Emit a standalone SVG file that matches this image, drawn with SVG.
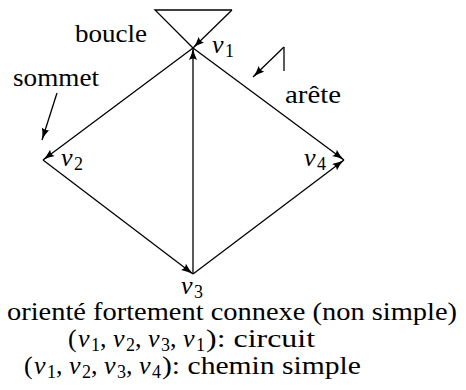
<svg xmlns="http://www.w3.org/2000/svg" width="466" height="390" viewBox="0 0 466 390">
<defs>
  <marker id="ah" markerUnits="userSpaceOnUse" markerWidth="14" markerHeight="10" refX="12" refY="4" orient="auto">
    <path d="M0,0 Q6,3 12,4 Q6,5 0,8 Q3,4 0,0 Z" fill="#000"/>
  </marker>
</defs>
<g id="connectors" stroke="#000" stroke-width="1.3" fill="none">
  <path d="M193,48 L155,10 L232,10"/>
  <path d="M232,10 L193,48" marker-end="url(#ah)"/>
  <line x1="193" y1="48" x2="43" y2="160" marker-end="url(#ah)"/>
  <line x1="43" y1="160" x2="193" y2="274" marker-end="url(#ah)"/>
  <line x1="193" y1="274" x2="193" y2="48" marker-end="url(#ah)"/>
  <line x1="193" y1="48" x2="344" y2="160" marker-end="url(#ah)"/>
  <line x1="193" y1="274" x2="344" y2="160" marker-end="url(#ah)"/>
  <line x1="57" y1="93" x2="42" y2="140" marker-end="url(#ah)"/>
  <line x1="284" y1="47" x2="284" y2="71"/>
  <line x1="284" y1="47" x2="253" y2="77" marker-end="url(#ah)"/>
</g>
<g font-family="Liberation Serif" font-size="26" fill="#000">
  <g id="v1"><text style="font-family:'Liberation Serif',serif !important" font-style="italic" x="212" y="53">v</text><text style="font-family:'Liberation Serif',serif !important" font-size="18" x="225" y="57">1</text></g>
  <g id="v2"><text style="font-family:'Liberation Serif',serif !important" font-style="italic" x="61" y="166">v</text><text style="font-family:'Liberation Serif',serif !important" font-size="18" x="74" y="170">2</text></g>
  <g id="v3"><text style="font-family:'Liberation Serif',serif !important" font-style="italic" x="181" y="294">v</text><text style="font-family:'Liberation Serif',serif !important" font-size="18" x="194" y="298">3</text></g>
  <g id="v4"><text style="font-family:'Liberation Serif',serif !important" font-style="italic" x="304" y="166">v</text><text style="font-family:'Liberation Serif',serif !important" font-size="18" x="317" y="170">4</text></g>
  <g id="labels">
    <text style="font-family:'Liberation Serif',serif !important" x="75" y="42" textLength="72" lengthAdjust="spacingAndGlyphs">boucle</text>
    <text style="font-family:'Liberation Serif',serif !important" x="13" y="86" textLength="86" lengthAdjust="spacingAndGlyphs">sommet</text>
    <text style="font-family:'Liberation Serif',serif !important" x="285" y="103" textLength="56" lengthAdjust="spacingAndGlyphs">arête</text>
    <text style="font-family:'Liberation Serif',serif !important" x="7" y="320" textLength="450" lengthAdjust="spacingAndGlyphs">orienté fortement connexe (non simple)</text>
  </g>
  <g id="line2">
    <text style="font-family:'Liberation Serif',serif !important" x="68" y="347">(</text>
    <text style="font-family:'Liberation Serif',serif !important" font-style="italic" x="78" y="347">v</text><text style="font-family:'Liberation Serif',serif !important" font-size="18" x="91" y="351">1</text><text style="font-family:'Liberation Serif',serif !important" x="100" y="347">,</text>
    <text style="font-family:'Liberation Serif',serif !important" font-style="italic" x="113" y="347">v</text><text style="font-family:'Liberation Serif',serif !important" font-size="18" x="126" y="351">2</text><text style="font-family:'Liberation Serif',serif !important" x="135" y="347">,</text>
    <text style="font-family:'Liberation Serif',serif !important" font-style="italic" x="148" y="347">v</text><text style="font-family:'Liberation Serif',serif !important" font-size="18" x="161" y="351">3</text><text style="font-family:'Liberation Serif',serif !important" x="170" y="347">,</text>
    <text style="font-family:'Liberation Serif',serif !important" font-style="italic" x="183" y="347">v</text><text style="font-family:'Liberation Serif',serif !important" font-size="18" x="196" y="351">1</text>
    <text style="font-family:'Liberation Serif',serif !important" x="206" y="347" textLength="109" lengthAdjust="spacingAndGlyphs">): circuit</text>
  </g>
  <g id="line3">
    <text style="font-family:'Liberation Serif',serif !important" x="24" y="374">(</text>
    <text style="font-family:'Liberation Serif',serif !important" font-style="italic" x="34" y="374">v</text><text style="font-family:'Liberation Serif',serif !important" font-size="18" x="47" y="378">1</text><text style="font-family:'Liberation Serif',serif !important" x="56" y="374">,</text>
    <text style="font-family:'Liberation Serif',serif !important" font-style="italic" x="69" y="374">v</text><text style="font-family:'Liberation Serif',serif !important" font-size="18" x="82" y="378">2</text><text style="font-family:'Liberation Serif',serif !important" x="91" y="374">,</text>
    <text style="font-family:'Liberation Serif',serif !important" font-style="italic" x="104" y="374">v</text><text style="font-family:'Liberation Serif',serif !important" font-size="18" x="117" y="378">3</text><text style="font-family:'Liberation Serif',serif !important" x="126" y="374">,</text>
    <text style="font-family:'Liberation Serif',serif !important" font-style="italic" x="139" y="374">v</text><text style="font-family:'Liberation Serif',serif !important" font-size="18" x="152" y="378">4</text>
    <text style="font-family:'Liberation Serif',serif !important" x="162" y="374" textLength="199" lengthAdjust="spacingAndGlyphs">): chemin simple</text>
  </g>
</g>
</svg>
